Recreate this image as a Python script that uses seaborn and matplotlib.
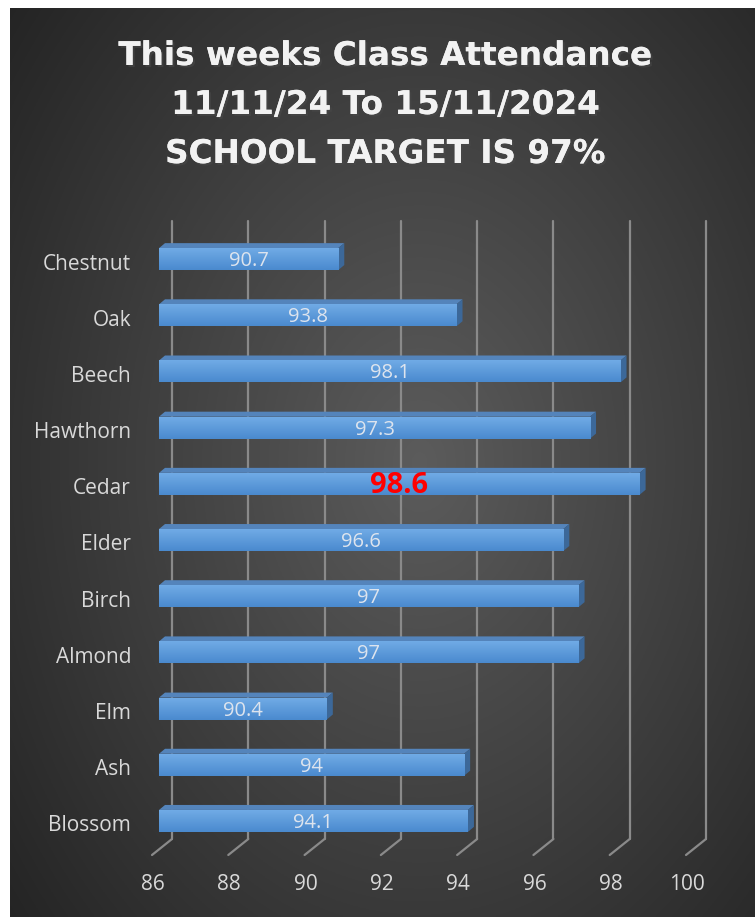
import numpy as np
import pandas as pd
import seaborn as sns
import matplotlib.pyplot as plt
import matplotlib.patheffects as pe
from matplotlib.patches import Polygon
from matplotlib.transforms import ScaledTranslation, blended_transform_factory

# ---- data ----
classes = ["Chestnut", "Oak", "Beech", "Hawthorn", "Cedar", "Elder",
           "Birch", "Almond", "Elm", "Ash", "Blossom"]
attendance = [90.7, 93.8, 98.1, 97.3, 98.6, 96.6, 97, 97, 90.4, 94, 94.1]
highlight = "Cedar"
x_ticks = [86, 88, 90, 92, 94, 96, 98, 100]
title_lines = ["This weeks Class Attendance", "11/11/24 To 15/11/2024", "SCHOOL TARGET IS 97%"]

df = pd.DataFrame({"klass": classes, "value": attendance})

sns.set_style("white")
plt.rcParams["font.family"] = ["Open Sans", "DejaVu Sans"]

W, H = 755, 917
fig = plt.figure(figsize=(W / 100, H / 100), dpi=100, facecolor="white")

# background panel with radial gradient
bg = fig.add_axes([10 / W, 0, 1 - 10 / W, 1 - 8 / H])
bg.set_axis_off()
yy, xx = np.mgrid[0:1:400j, 0:1:400j]
r = np.sqrt(((xx - 0.55) / 0.85) ** 2 + ((yy - 0.5) / 0.95) ** 2)
shade = np.clip(0.36 - 0.26 * r, 0.14, 0.36)
bg.imshow(np.dstack([shade] * 3), extent=(0, 1, 0, 1), aspect="auto", origin="lower")

# main axes = front plane of the bars
ax = fig.add_axes([159 / W, 1 - 849 / H, (693 - 159) / W, (849 - 231) / H])
ax.patch.set_alpha(0)
sns.barplot(data=df, x="value", y="klass", orient="h", width=0.39,
            color="#5b9bd5", ax=ax, zorder=3)
ax.set_xlim(86, 100)
ax.set_ylim(10.5, -0.5)
ax.set_xlabel("")
ax.set_ylabel("")
ax.set_xticks([])
ax.set_yticks([])
for s in ax.spines.values():
    s.set_visible(False)

px = lambda dx, dy: ScaledTranslation(dx / 100, dy / 100, fig.dpi_scale_trans)
xform = blended_transform_factory(ax.transData, ax.transAxes)
inv = fig.transFigure.inverted()

# back-wall gridlines and floor ticks
for t in x_ticks:
    ax.plot([t, t], [0, 1], transform=xform + px(13, 10), color="#8a8a8a", lw=1.6,
            zorder=1, clip_on=False)
    x0 = ax.transData.transform((t, 0))[0]
    y0 = ax.transAxes.transform((0, 0))[1]
    p1 = inv.transform((x0 + 13, y0 + 10))
    p2 = inv.transform((x0 - 7, y0 - 6))
    fig.add_artist(plt.Line2D([p1[0], p2[0]], [p1[1], p2[1]], color="#8a8a8a", lw=1.6))
    ax.text(t, 0, f"{t}", transform=xform + px(-6, -36), ha="center", va="center",
            fontsize=15, color="#d9d9d9")

# pixel-to-data conversion for 3D faces
ppx = ax.transData.transform((87, 0))[0] - ax.transData.transform((86, 0))[0]
ppy = ax.transData.transform((0, 0))[1] - ax.transData.transform((0, 1))[1]
ddx, ddy = 6 / ppx, 5 / ppy

grad = np.linspace(0, 1, 50).reshape(-1, 1)
top_c = np.array([0.44, 0.67, 0.90])
bot_c = np.array([0.29, 0.54, 0.81])
grad_img = top_c + (bot_c - top_c) * grad[..., None] * np.ones((1, 2, 1))

ylab_tf = blended_transform_factory(ax.transAxes, ax.transData) + px(-28, -5)
val_tf = ax.transData + px(0, -2)

for bar, val, name in zip(ax.patches, attendance, classes):
    yb = bar.get_y()
    h = bar.get_height()
    ytop, ybot = yb, yb + h
    x0 = 86
    x1 = bar.get_x() + bar.get_width()
    bar.set_edgecolor("none")
    im = ax.imshow(grad_img, extent=(x0, x1, ybot, ytop), aspect="auto", zorder=3.1,
                   origin="upper")
    im.set_clip_path(bar)
    top = Polygon([(x0, ytop), (x1, ytop), (x1 + ddx, ytop - ddy), (x0 + ddx, ytop - ddy)],
                  closed=True, facecolor="#5484bb", edgecolor="none", zorder=3)
    side = Polygon([(x1, ytop), (x1 + ddx, ytop - ddy), (x1 + ddx, ybot - ddy), (x1, ybot)],
                   closed=True, facecolor="#3c6899", edgecolor="none", zorder=3)
    ax.add_patch(top)
    ax.add_patch(side)
    cy = yb + h / 2
    if name == highlight:
        ax.text((x0 + x1) / 2, cy, f"{val:g}", transform=val_tf, ha="center", va="center",
                fontsize=21, fontweight="bold", color="#ff0000", zorder=5)
    else:
        ax.text((x0 + x1) / 2, cy, f"{val:g}", transform=val_tf, ha="center", va="center",
                fontsize=14.5, color="#dde4ee", zorder=5)
    ax.text(0, cy, name, transform=ylab_tf, ha="right", va="center",
            fontsize=15, color="#d9d9d9")

ax.set_xlim(86, 100)
ax.set_ylim(10.5, -0.5)

# title
for i, line in enumerate(title_lines):
    fig.text(385 / W, 1 - (55.5 + 49 * i) / H, line, ha="center", va="center",
             fontsize=23.5, fontweight="bold", color="#f2f2f2",
             family=["DejaVu Sans"],
             path_effects=[pe.withSimplePatchShadow(offset=(1.5, -1.5), alpha=0.6),
                           pe.Normal()])

fig.savefig("out.png", dpi=100, facecolor="white")
